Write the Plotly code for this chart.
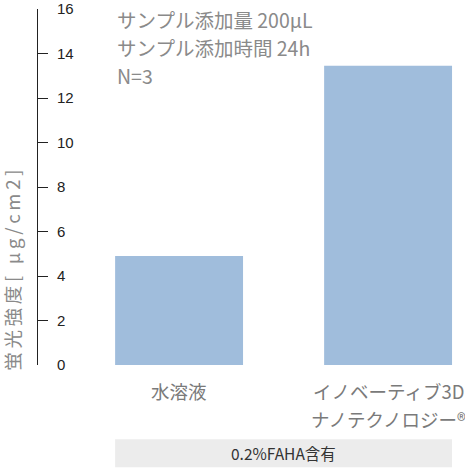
import plotly.graph_objects as go

categories = [["水溶液"], ["イノベーティブ3D", "ナノテクノロジー®"]]
values = [4.9, 13.45]
y_ticks = [0, 2, 4, 6, 8, 10, 12, 14, 16]
notes = ["サンプル添加量 200µL", "サンプル添加時間 24h", "N=3"]
y_title = "蛍光強度[ μg/cm2]"
footer = "0.2%FAHA含有"

W, H = 465, 469
L, R, T, B = 38, 0, 6, 104
plot_h = H - T - B
plot_w = W - L - R

def py(pix):
    return (T + plot_h - pix) / plot_h

def px(pix):
    return (pix - L) / plot_w

fig = go.Figure()
fig.add_trace(go.Bar(
    x=[0, 1], y=values, width=0.612,
    marker=dict(color="#a0bddc", line=dict(width=0)),
    hoverinfo="skip",
))

bar_half = 0.306
fig.add_shape(type="rect", xref="x", yref="paper",
              x0=0 - bar_half, x1=1 + bar_half,
              y0=py(468), y1=py(440),
              fillcolor="#ececec", line=dict(width=0), layer="below")
fig.add_annotation(xref="x", yref="paper", x=0.5, y=py(454),
                   text=footer, showarrow=False, xanchor="center", yanchor="middle",
                   font=dict(size=15.5, color="#333333", family="Noto Sans CJK JP"))

for i, lines in enumerate(categories):
    for j, t in enumerate(lines):
        fig.add_annotation(xref="x", yref="paper", x=i, y=py(391 + 28 * j),
                           text=t, showarrow=False, xanchor="center", yanchor="middle",
                           font=dict(size=18.5, color="#7a7a7a", family="Noto Sans CJK JP"))

for i, t in enumerate(notes):
    fig.add_annotation(xref="paper", yref="paper", x=px(115),
                       y=py(17 + 28 * i),
                       text=t, showarrow=False, xanchor="left", yanchor="middle",
                       font=dict(size=19.5, color="#8a8a8a", family="Noto Sans CJK JP"))

spaced_title = "\u2009".join(y_title)
fig.add_annotation(xref="paper", yref="paper", x=px(12),
                   y=py(270), text=spaced_title, textangle=-90,
                   showarrow=False, xanchor="center", yanchor="middle",
                   font=dict(size=18.5, color="#8a8a8a", family="Noto Sans CJK JP"))

fig.update_layout(
    width=W, height=H,
    margin=dict(l=L, r=R, t=T, b=B, pad=0),
    paper_bgcolor="white", plot_bgcolor="white",
    showlegend=False,
    xaxis=dict(range=[-0.675, 1.368], showticklabels=False,
               showline=False, showgrid=False, zeroline=False,
               ticks="", fixedrange=True),
    yaxis=dict(range=[0, 16], tickmode="array", tickvals=y_ticks,
               ticktext=[str(v) for v in y_ticks],
               showline=True, linecolor="#222222", linewidth=1,
               ticks="inside", ticklen=10, tickcolor="#222222", tickwidth=1,
               ticklabelposition="inside", ticklabelstandoff=9,
               ticklabeloverflow="allow",
               showgrid=False, zeroline=False,
               tickfont=dict(size=15, color="#222222", family="Liberation Sans Narrow, Arial"),
               fixedrange=True),
)

fig.write_html("out.html", config={"displayModeBar": False},
               post_script="document.body.style.margin='0';document.body.style.overflow='hidden';")
